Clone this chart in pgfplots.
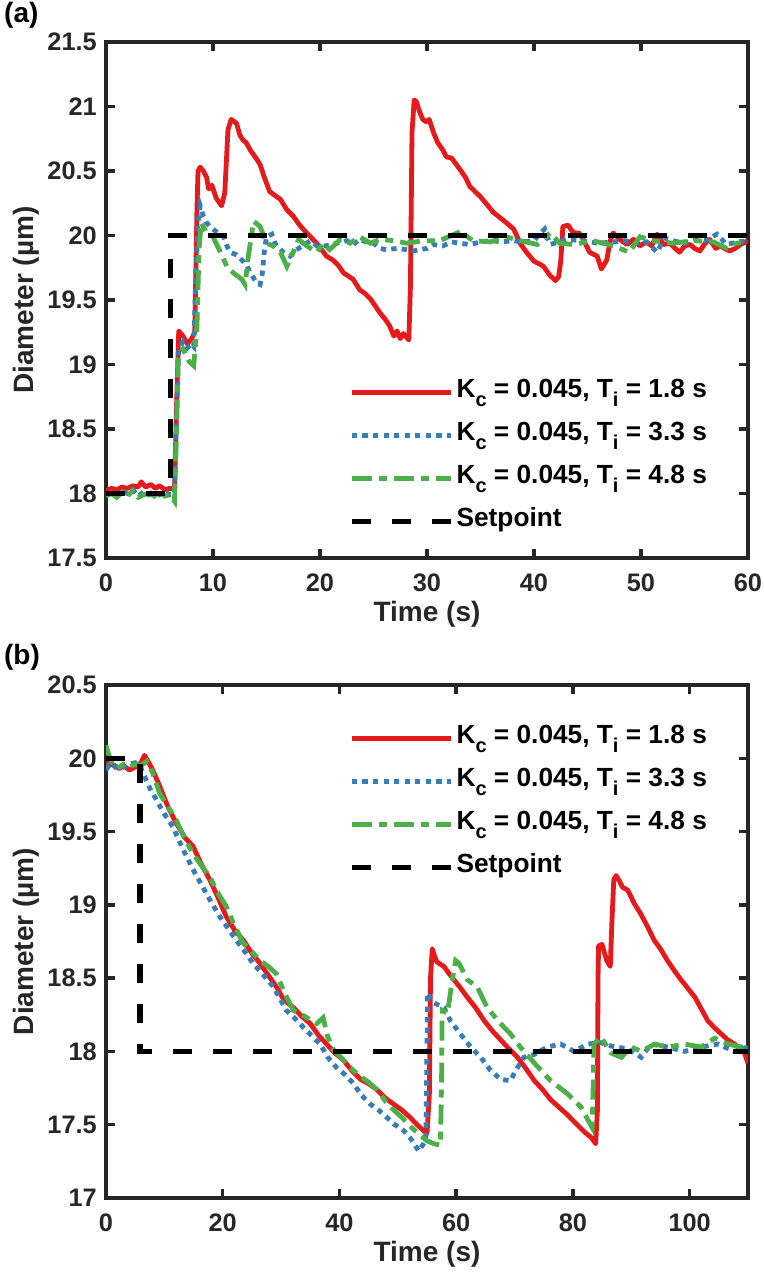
\documentclass[border=0pt]{standalone}
\usepackage{pgfplots}
\pgfplotsset{compat=1.18}
\usepackage{fontspec}
\setmainfont{Liberation Sans}
\definecolor{axgray}{RGB}{38,38,38}
\definecolor{cred}{RGB}{228,26,28}
\definecolor{cblue}{RGB}{55,126,184}
\definecolor{cgreen}{RGB}{77,175,74}
\newcommand{\sub}[1]{\raisebox{-7pt}{\fontsize{15}{15}\selectfont #1}}
\newcommand{\entry}[1]{K\sub{c} = 0.045, T\sub{i} = #1 s}
\pgfplotsset{
 myax/.style={
  scale only axis, width=481.5pt,
  axis line style={line width=3.4pt, draw=axgray},
  tick style={line width=2.6pt, draw=axgray},
  tick align=inside, major tick length=6.5pt,
  ticklabel style={font=\fontsize{19}{22}\selectfont\bfseries, text=axgray},
  /pgf/number format/assume math mode=true,
  xticklabel style={anchor=base, yshift=-24.8pt},
  yticklabel style={anchor=east, inner sep=0pt, xshift=-6.75pt},
  every axis x label/.style={at={(axis description cs:0.5,0)}, yshift=-42pt, anchor=center, font=\fontsize{21}{24}\selectfont\bfseries, text=axgray},
  every axis y label/.style={at={(axis description cs:0,0.5)}, xshift=-60pt, rotate=90, anchor=center, font=\fontsize{21}{24}\selectfont\bfseries, text=axgray},
  legend image code/.code={\draw[##1] (0pt,0pt) -- (74pt,0pt);},
  legend cell align=left,
  legend style={draw=none, fill=none, inner sep=0pt, anchor=north west, font=\fontsize{19.7}{23}\selectfont\bfseries, row sep=10.75pt, nodes={inner ysep=0pt, inner xsep=2.5pt, text height=14.5pt, text depth=7pt}},
  xlabel={Time (s)}, ylabel={Diameter (\textmu m)},
 },
 r/.style={cred, line width=3.6pt, line join=round},
 b/.style={cblue, line width=3.6pt, dash pattern=on 4pt off 3.9pt},
 g/.style={cgreen, line width=3.6pt, dash pattern=on 15pt off 5.25pt on 6pt off 5.25pt},
 sp/.style={black, line width=4pt, dash pattern=on 14.25pt off 15.75pt},
}
\begin{document}
\begin{tikzpicture}
\useasboundingbox (0,0) rectangle (573pt,959.25pt);
\node[font=\fontsize{21}{24}\selectfont\bfseries] at (16pt,948pt) {(a)};
\node[font=\fontsize{21}{24}\selectfont\bfseries] at (16.5pt,466.5pt) {(b)};
\begin{axis}[myax, at={(79.5pt,540.75pt)}, anchor=south west, height=387pt,
  xmin=0, xmax=60, ymin=17.5, ymax=21.5, xtick={0,10,...,60}, ytick={17.5,18,...,21.5},
  legend style={at={(axis description cs:0.3785,0.349)}}]
\addplot[r] coordinates {(0,18.02) (0.5,18.04) (1,18.03) (1.5,18.05) (2,18.04) (2.5,18.06) (3,18.05) (3.3,18.09) (3.7,18.05) (4.2,18.07) (4.6,18.04) (5,18.06) (5.5,18.03) (6,18.04) (6.4,18.03) (6.6,18.7) (6.8,19.26) (7.2,19.22) (7.6,19.16) (8.0,19.2) (8.3,19.25) (8.5,20.2) (8.6,20.5) (8.8,20.53) (9.1,20.5) (9.4,20.45) (9.6,20.36) (9.9,20.39) (10.3,20.29) (10.8,20.23) (11.1,20.33) (11.4,20.82) (11.7,20.9) (12.2,20.87) (12.5,20.78) (12.8,20.74) (13.1,20.72) (13.5,20.66) (14.1,20.59) (14.4,20.55) (14.8,20.45) (15.3,20.34) (15.8,20.31) (16.3,20.28) (16.9,20.2) (17.5,20.15) (18.1,20.08) (18.75,20.02) (19.7,19.94) (20.6,19.84) (21.2,19.81) (21.7,19.77) (22.2,19.71) (23.1,19.66) (23.7,19.58) (24.2,19.55) (24.7,19.51) (25.2,19.45) (25.6,19.40) (26.1,19.35) (26.5,19.30) (26.9,19.22) (27.2,19.26) (27.5,19.2) (27.8,19.24) (28.3,19.19) (28.45,19.6) (28.6,20.8) (28.8,21.05) (29.0,21.04) (29.3,20.96) (29.6,20.9) (29.97,20.88) (30.2,20.9) (30.6,20.8) (31.0,20.72) (31.5,20.66) (31.8,20.61) (32.3,20.6) (33.1,20.51) (33.6,20.45) (34.0,20.38) (34.5,20.34) (35.0,20.30) (35.6,20.24) (36.2,20.18) (36.8,20.14) (37.4,20.10) (38.1,20.05) (38.7,19.94) (39.3,19.87) (40.0,19.80) (40.5,19.78) (40.9,19.76) (41.5,19.69) (42.0,19.65) (42.3,19.68) (42.5,19.8) (42.7,20.07) (43.2,20.08) (43.5,20.04) (43.8,20.02) (44.2,20.02) (44.6,19.97) (45.2,19.87) (45.9,19.84) (46.3,19.74) (46.8,19.81) (47.1,19.95) (47.4,20.02) (48.0,19.97) (48.7,19.93) (49.3,19.97) (49.9,19.92) (50.5,19.95) (51.0,19.92) (51.5,20.01) (52.1,19.93) (52.7,19.94) (53.2,19.9) (53.6,19.87) (54.1,19.92) (54.6,19.93) (55.0,19.9) (55.5,19.88) (56.0,19.94) (56.4,19.97) (57.0,19.9) (57.4,19.92) (58.0,19.89) (58.3,19.88) (58.8,19.9) (59.3,19.93) (60,19.96)};
\addlegendentry{\entry{1.8}}
\addplot[b] coordinates {(0,17.99) (0.5,18.01) (1,17.98) (1.5,18.02) (2,18.0) (2.5,18.03) (3,17.98) (3.5,18.01) (4,17.99) (4.5,18.02) (5,17.99) (5.5,18.01) (6,17.99) (6.4,18.0) (6.6,18.6) (6.8,19.12) (7.2,19.18) (7.6,19.13) (8.0,19.16) (8.2,19.14) (8.4,19.7) (8.6,20.1) (8.8,20.23) (9.1,20.15) (9.4,20.1) (9.7,20.07) (10.3,20.03) (11.0,19.99) (11.3,19.92) (11.6,19.87) (12.2,19.85) (12.8,19.80) (13.2,19.76) (13.5,19.71) (14.1,19.63) (14.4,19.62) (14.6,19.7) (14.8,19.88) (15.0,19.99) (15.5,20.01) (15.9,19.92) (16.6,19.87) (17.2,19.84) (17.8,19.89) (18.4,19.92) (19.1,19.96) (19.7,19.92) (20.6,19.92) (21.6,19.94) (22.5,19.96) (23.1,19.93) (23.7,19.97) (24.3,19.95) (25.0,19.94) (25.6,19.9) (26.2,19.89) (27.2,19.9) (28.1,19.89) (28.7,19.88) (29.3,19.89) (30,19.9) (30.6,19.93) (31.5,19.92) (32.3,19.95) (33.1,19.94) (34,19.93) (35,19.95) (36,19.96) (37,19.95) (38,19.96) (39,19.95) (40,19.96) (40.6,20.02) (41.0,20.05) (41.5,19.93) (42.3,19.95) (43,19.97) (44.5,19.96) (46,19.94) (47.4,19.95) (48.5,19.96) (49.5,19.94) (50.5,19.95) (51.5,19.87) (52.2,19.98) (53,19.96) (54,19.94) (55,19.97) (56,19.96) (57.1,20.01) (58,19.93) (59,19.95) (60,19.96)};
\addlegendentry{\entry{3.3}}
\addplot[g] coordinates {(0,17.98) (0.5,18.0) (1,17.97) (1.5,18.01) (2,17.98) (2.5,18.02) (3,17.97) (3.5,17.99) (4,18.0) (4.5,17.98) (5,18.01) (5.5,17.98) (6,17.99) (6.4,17.94) (6.6,18.5) (6.75,19.07) (7.2,19.12) (7.8,19.02) (8.2,18.99) (8.5,19.3) (8.7,19.9) (8.9,20.10) (9.4,20.02) (10.0,19.99) (10.7,19.87) (11.3,19.76) (11.9,19.71) (12.7,19.66) (13.0,19.62) (13.3,19.84) (13.8,20.11) (14.4,20.07) (15.0,19.94) (15.6,19.92) (16.3,19.87) (16.9,19.76) (17.5,19.87) (18.0,19.97) (18.75,19.92) (19.7,19.87) (20.3,19.94) (20.9,19.89) (21.9,19.97) (22.8,19.94) (23.7,19.99) (24.7,19.94) (25.6,19.97) (26.9,19.96) (28.1,19.94) (29.7,19.96) (31.2,19.96) (33.1,20.03) (34.3,19.96) (35.9,19.95) (37.4,19.99) (38.7,19.96) (40.3,19.93) (41.5,20.02) (42.4,19.94) (43.7,19.93) (45.5,19.96) (47.4,19.92) (48.9,19.87) (49.9,19.99) (51.1,19.96) (53.0,19.94) (54.9,19.96) (56.8,19.95) (58.0,19.9) (58.9,19.94) (60,19.95)};
\addlegendentry{\entry{4.8}}
\addplot[sp] coordinates {(0,18) (6,18) (6,20) (60,20)};
\addlegendentry{Setpoint}
\end{axis}
\begin{axis}[myax, at={(79.5pt,60.75pt)}, anchor=south west, height=384.75pt,
  xmin=0, xmax=110, ymin=17, ymax=20.5, xtick={0,20,...,100}, ytick={17,17.5,...,20.5},
  legend style={at={(axis description cs:0.3785,0.924)}}]
\addplot[r] coordinates {(0,19.97) (0.7,19.96) (1.5,19.95) (2.3,19.93) (3,19.95) (4,19.92) (5,19.94) (6,19.97) (6.6,20.02) (7.2,19.98) (8,19.92) (9.2,19.81) (10.5,19.68) (12.0,19.56) (13.5,19.46) (14.9,19.40) (16.3,19.28) (17.8,19.17) (19.2,19.05) (20.6,18.92) (22,18.83) (23.5,18.76) (25,18.67) (26.4,18.60) (27.8,18.52) (29.2,18.44) (30.5,18.35) (32.1,18.30) (33.5,18.24) (35.0,18.19) (36.4,18.11) (37.8,18.05) (39.2,17.99) (40.7,17.94) (42.1,17.87) (43.6,17.81) (45,17.78) (46.4,17.74) (47.9,17.68) (49.3,17.64) (50.7,17.6) (52.1,17.55) (53.3,17.5) (54.4,17.46) (55.0,17.44) (55.4,17.7) (55.6,18.5) (55.9,18.70) (56.3,18.65) (56.7,18.61) (57.9,18.58) (58.8,18.53) (59.6,18.49) (60.8,18.43) (61.9,18.37) (63.3,18.3) (64.8,18.21) (66.2,18.14) (67.6,18.08) (69,18.02) (70.5,17.96) (72,17.88) (73.4,17.80) (74.8,17.74) (76.2,17.67) (77.6,17.62) (79,17.57) (80.5,17.51) (82,17.45) (83.2,17.41) (83.9,17.37) (84.2,17.6) (84.3,18.5) (84.4,18.72) (85.0,18.73) (85.5,18.66) (85.8,18.62) (86.4,18.58) (86.7,18.9) (87.0,19.17) (87.4,19.2) (88.0,19.16) (88.5,19.12) (89.4,19.10) (90.5,19.01) (91.6,18.94) (92.8,18.85) (93.9,18.76) (95,18.7) (96.2,18.62) (97.4,18.55) (98.5,18.49) (99.7,18.43) (100.9,18.37) (102,18.29) (103.1,18.21) (104.3,18.16) (105.4,18.12) (106.5,18.08) (107.7,18.05) (108.6,18.02) (109.4,17.99) (110,17.92)};
\addlegendentry{\entry{1.8}}
\addplot[b] coordinates {(0,19.92) (0.5,19.95) (1.2,19.93) (2,19.96) (3,19.94) (4,19.96) (5,19.97) (5.8,19.95) (6.9,19.85) (7.7,19.78) (8.6,19.72) (10,19.62) (11.5,19.53) (12.6,19.43) (13.8,19.33) (15.2,19.22) (16.6,19.12) (18,19.02) (19.5,18.92) (20.9,18.84) (22.3,18.76) (23.8,18.68) (25.2,18.60) (27,18.52) (28.7,18.44) (30.9,18.28) (32.5,18.22) (34.4,18.14) (36.7,18.05) (38,17.96) (39.5,17.89) (41,17.84) (42.4,17.78) (43.8,17.7) (45.3,17.64) (46.7,17.6) (48.1,17.55) (49.5,17.5) (51.0,17.46) (52.3,17.4) (53.6,17.32) (54.4,17.37) (54.8,17.4) (55.0,18.0) (55.1,18.4) (55.6,18.36) (56.2,18.33) (57.9,18.30) (59.0,18.21) (60.7,18.12) (62.5,18.03) (64.2,17.96) (65.9,17.87) (67.6,17.81) (69.3,17.80) (70.2,17.87) (71.6,17.96) (73.4,17.98) (75.6,18.03) (77.9,18.05) (80.2,18.00) (82.5,18.05) (84.8,18.06) (87.1,18.03) (89.4,18.02) (91.7,17.96) (93.4,18.05) (96.3,18.03) (99.1,18.0) (102.0,18.03) (104.9,18.05) (107.7,18.0) (110,18.03)};
\addlegendentry{\entry{3.3}}
\addplot[g] coordinates {(0,20.09) (0.5,20.02) (1,19.97) (2,19.93) (3,19.96) (4,19.94) (5,19.96) (6,19.95) (7,19.98) (8,19.9) (9.2,19.76) (10.6,19.67) (12.0,19.58) (13.4,19.46) (14.9,19.35) (16.3,19.27) (17.8,19.19) (19.2,19.08) (20.6,18.99) (22,18.86) (23.5,18.74) (25,18.68) (26.4,18.62) (27.8,18.58) (29.2,18.53) (30.6,18.4) (32.1,18.28) (34,18.24) (36.1,18.19) (37.2,18.23) (38,18.1) (39.0,18.01) (40.7,17.94) (42.1,17.88) (43.6,17.83) (45,17.79) (46.4,17.74) (47.9,17.66) (49.3,17.60) (50.7,17.55) (52.1,17.49) (53.5,17.44) (55.0,17.39) (56.2,17.37) (57.3,17.36) (57.5,17.8) (57.6,18.28) (58.5,18.26) (59.3,18.48) (59.9,18.62) (60.5,18.60) (61.9,18.49) (63.6,18.44) (65.3,18.30) (67.6,18.19) (69.3,18.12) (71.0,18.03) (73.4,17.92) (76.2,17.80) (79.1,17.71) (81.4,17.62) (82.6,17.53) (83.3,17.48) (83.5,17.8) (83.6,18.05) (84.8,18.10) (86.5,17.99) (88.3,17.96) (90.0,18.03) (91.7,18.00) (94.0,18.05) (96.3,18.03) (99.1,18.05) (102.0,18.03) (104.3,18.09) (106.6,18.05) (108.9,18.03) (110,18.03)};
\addlegendentry{\entry{4.8}}
\addplot[sp] coordinates {(0,20) (5.8,20) (5.8,18) (110,18)};
\addlegendentry{Setpoint}
\end{axis}
\end{tikzpicture}
\end{document}
